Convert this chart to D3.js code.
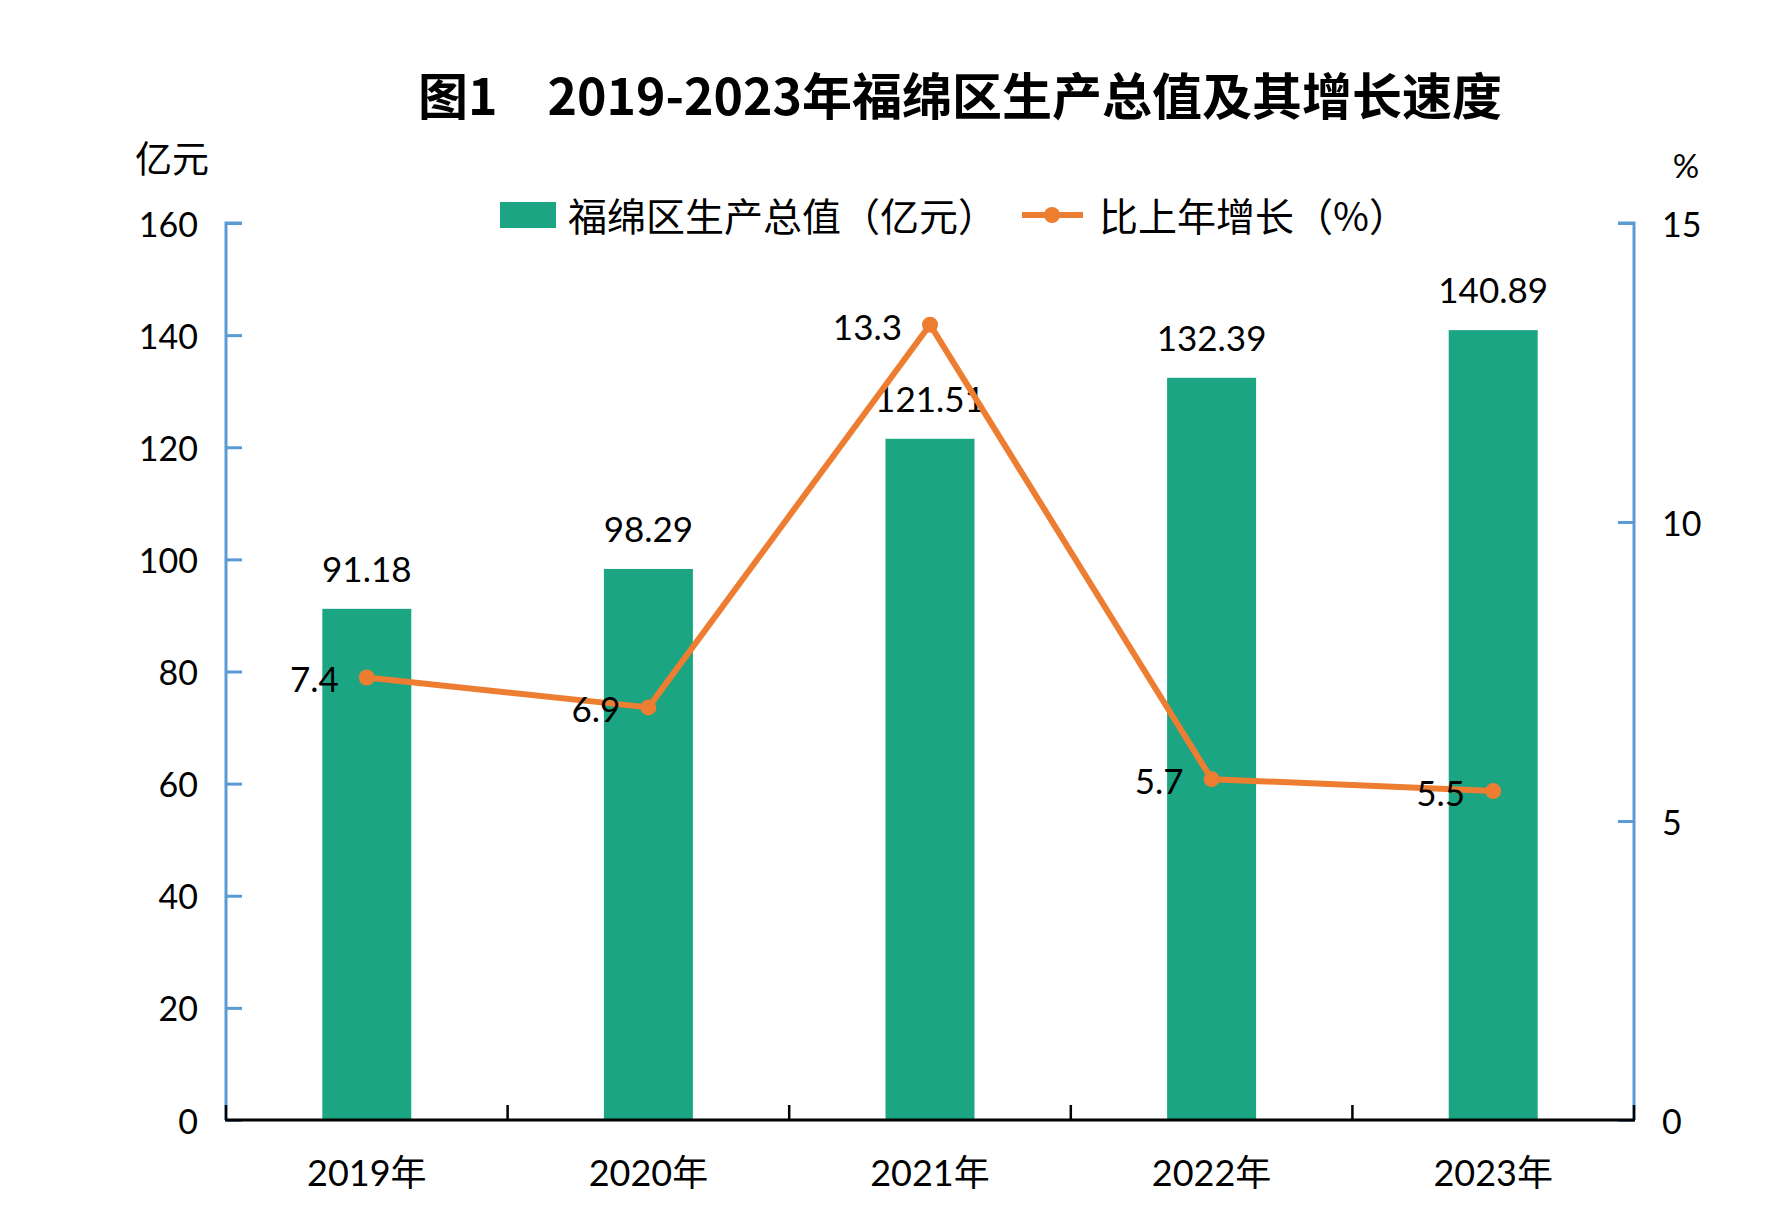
<!DOCTYPE html>
<html>
<head>
<meta charset="utf-8">
<script src="https://cdn.jsdelivr.net/npm/d3@7/dist/d3.min.js"></script>
<style>
  html, body { margin: 0; padding: 0; background: #fff; }
  svg { display: block; }
  text { font-family: "Lato", "Noto Sans CJK SC", sans-serif; fill: #000; }
  .cjk { font-family: "Noto Sans CJK SC", sans-serif; }
</style>
</head>
<body>
<svg id="chart" width="1790" height="1220"></svg>
<script>
// ---- data ----
const years = ["2019年", "2020年", "2021年", "2022年", "2023年"];
const gdp = [91.18, 98.29, 121.51, 132.39, 140.89];
const growth = [7.4, 6.9, 13.3, 5.7, 5.5];
const leftTicks = [0, 20, 40, 60, 80, 100, 120, 140, 160];
const rightTicks = [0, 5, 10, 15];

const titleText = "图1\u30002019-2023年福绵区生产总值及其增长速度";
const barName = "福绵区生产总值（亿元）";
const lineName = "比上年增长（%）";

// ---- layout ----
const L = 226, R = 1634, T = 223, B = 1120;
const barColor = "#1ba583", lineColor = "#ed7d31", axisBlue = "#5b9bd5";

const svg = d3.select("#chart");

const x = d3.scaleBand().domain(years).range([L, R]).padding(0);
const yL = d3.scaleLinear().domain([0, 160]).range([B, T]);
const yR = d3.scaleLinear().domain([0, 15]).range([B, T]);
const bw = x.step() * 0.316;
const cx = d => x(d) + x.step() / 2;

// title
svg.append("text").attr("class", "cjk")
  .attr("x", 960).attr("y", 93)
  .attr("text-anchor", "middle").attr("dominant-baseline", "central")
  .attr("font-size", 50).attr("font-weight", "bold")
  .text(titleText);

// unit labels
svg.append("text").attr("class", "cjk")
  .attr("x", 172).attr("y", 157)
  .attr("text-anchor", "middle").attr("dominant-baseline", "central")
  .attr("font-size", 37).text("亿元");
svg.append("text")
  .attr("x", 1686).attr("y", 165)
  .attr("text-anchor", "middle").attr("dominant-baseline", "central")
  .attr("font-size", 33).text("%");

// bars
svg.append("g").selectAll("rect").data(years).join("rect")
  .attr("x", d => cx(d) - bw / 2)
  .attr("width", bw)
  .attr("y", (d, i) => yL(gdp[i]))
  .attr("height", (d, i) => yL(0) - yL(gdp[i]))
  .attr("fill", barColor);

// bar labels
svg.append("g").selectAll("text").data(years).join("text")
  .attr("x", d => cx(d))
  .attr("y", (d, i) => yL(gdp[i]) - 41)
  .attr("text-anchor", "middle").attr("dominant-baseline", "central")
  .attr("font-size", 35)
  .text((d, i) => gdp[i].toFixed(2));

// left axis
const axL = d3.axisRight(yL).tickValues(leftTicks).tickSize(16).tickFormat("");
const gL = svg.append("g").attr("transform", `translate(${L},0)`).call(axL);
gL.select(".domain").attr("stroke", axisBlue).attr("stroke-width", 3)
  .attr("d", `M16,${T}H0V${B}`);
gL.selectAll(".tick line").attr("stroke", axisBlue).attr("stroke-width", 3);
svg.append("g").selectAll("text").data(leftTicks).join("text")
  .attr("x", L - 28).attr("y", d => yL(d))
  .attr("text-anchor", "end").attr("dominant-baseline", "central")
  .attr("font-size", 34).text(d => d);

// right axis
const axR = d3.axisLeft(yR).tickValues(rightTicks).tickSize(16).tickFormat("");
const gR = svg.append("g").attr("transform", `translate(${R},0)`).call(axR);
gR.select(".domain").attr("stroke", axisBlue).attr("stroke-width", 3)
  .attr("d", `M-16,${T}H0V${B}`);
gR.selectAll(".tick line").attr("stroke", axisBlue).attr("stroke-width", 3);
svg.append("g").selectAll("text").data(rightTicks).join("text")
  .attr("x", R + 28).attr("y", d => yR(d))
  .attr("text-anchor", "start").attr("dominant-baseline", "central")
  .attr("font-size", 34).text(d => d);

// x axis
const bounds = years.map(d => x(d)).concat([R]);
svg.append("g").selectAll("line").data(bounds).join("line")
  .attr("x1", d => d).attr("x2", d => d)
  .attr("y1", B).attr("y2", B - 15)
  .attr("stroke", "#000").attr("stroke-width", 2.5);
svg.append("line").attr("x1", L - 1).attr("x2", R + 1).attr("y1", B).attr("y2", B)
  .attr("stroke", "#000").attr("stroke-width", 3);
svg.append("g").selectAll("text").data(years).join("text")
  .attr("x", d => cx(d)).attr("y", B + 52)
  .attr("text-anchor", "middle").attr("dominant-baseline", "central")
  .attr("font-size", 36).text(d => d);

// line
const line = d3.line().x((d, i) => cx(years[i])).y(d => yR(d));
svg.append("path").datum(growth)
  .attr("d", line).attr("fill", "none")
  .attr("stroke", lineColor).attr("stroke-width", 6).attr("stroke-linejoin", "round");
svg.append("g").selectAll("circle").data(growth).join("circle")
  .attr("cx", (d, i) => cx(years[i])).attr("cy", d => yR(d))
  .attr("r", 8).attr("fill", lineColor);
svg.append("g").selectAll("text").data(growth).join("text")
  .attr("x", (d, i) => cx(years[i]) - 28).attr("y", d => yR(d) + 1)
  .attr("text-anchor", "end").attr("dominant-baseline", "central")
  .attr("font-size", 35).text(d => d.toFixed(1));

// legend
svg.append("rect").attr("x", 500).attr("y", 202).attr("width", 56).attr("height", 26)
  .attr("fill", barColor);
svg.append("text").attr("class", "cjk")
  .attr("x", 568).attr("y", 214).attr("dominant-baseline", "central")
  .attr("font-size", 39).text(barName);
svg.append("line").attr("x1", 1022).attr("x2", 1083).attr("y1", 215).attr("y2", 215)
  .attr("stroke", lineColor).attr("stroke-width", 6);
svg.append("circle").attr("cx", 1052).attr("cy", 215).attr("r", 8).attr("fill", lineColor);
svg.append("text").attr("class", "cjk")
  .attr("x", 1099).attr("y", 214).attr("dominant-baseline", "central")
  .attr("font-size", 39).text(lineName);
</script>
</body>
</html>
